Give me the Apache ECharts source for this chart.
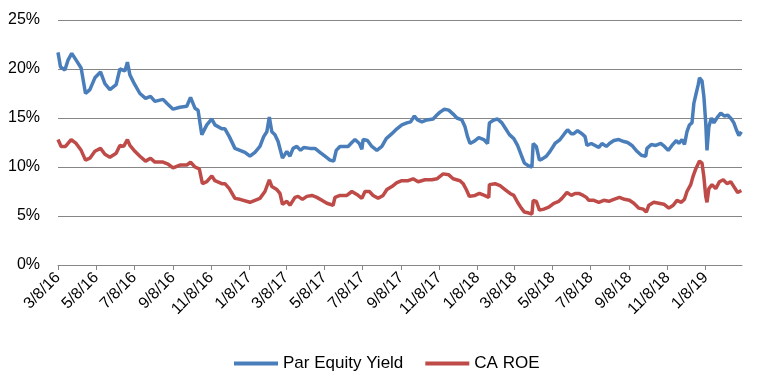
<!DOCTYPE html>
<html>
<head>
<meta charset="utf-8">
<script src="https://cdn.jsdelivr.net/npm/echarts@6/dist/echarts.min.js"></script>
<style>
html,body{margin:0;padding:0;background:#fff;}
#chart{width:760px;height:381px;}
</style>
</head>
<body>
<div id="chart"></div>
<script>
// Series names
const seriesNames = ['Par Equity Yield', 'CA ROE'];

// Par Equity Yield (%), dates as m/d/yy
const parDates = ['3/8/16','3/12/16','3/19/16','3/24/16','3/30/16','4/6/16','4/14/16','4/21/16','4/28/16','5/6/16','5/15/16','5/22/16','5/30/16','6/9/16','6/15/16','6/23/16','6/27/16','7/1/16','7/8/16','7/17/16','7/26/16','8/3/16','8/10/16','8/23/16','8/29/16','9/8/16','9/19/16','9/30/16','10/6/16','10/13/16','10/18/16','10/24/16','11/1/16','11/9/16','11/14/16','11/25/16','11/30/16','12/7/16','12/16/16','12/24/16','1/1/17','1/9/17','1/17/17','1/25/17','1/31/17','2/5/17','2/9/17','2/13/17','2/18/17','2/23/17','3/2/17','3/9/17','3/14/17','3/19/17','3/25/17','3/31/17','4/5/17','4/15/17','4/23/17','5/1/17','5/9/17','5/17/17','5/23/17','5/27/17','6/2/17','6/10/17','6/15/17','6/21/17','6/26/17','7/3/17','7/7/17','7/9/17','7/16/17','7/23/17','7/31/17','8/8/17','8/15/17','8/24/17','9/1/17','9/9/17','9/17/17','9/23/17','9/29/17','10/4/17','10/11/17','10/19/17','10/29/17','11/4/17','11/9/17','11/16/17','11/23/17','11/30/17','12/6/17','12/14/17','12/19/17','12/23/17','12/27/17','1/2/18','1/10/18','1/18/18','1/24/18','1/27/18','2/3/18','2/9/18','2/16/18','2/21/18','2/28/18','3/7/18','3/13/18','3/19/18','3/24/18','3/31/18','4/5/18','4/7/18','4/12/18','4/17/18','4/21/18','4/28/18','5/4/18','5/12/18','5/20/18','5/27/18','6/1/18','6/7/18','6/11/18','6/17/18','6/24/18','6/29/18','7/2/18','7/9/18','7/15/18','7/21/18','7/26/18','8/2/18','8/7/18','8/14/18','8/22/18','8/30/18','9/5/18','9/12/18','9/20/18','9/27/18','10/4/18','10/6/18','10/13/18','10/20/18','10/28/18','11/3/18','11/9/18','11/15/18','11/22/18','11/26/18','12/1/18','12/5/18','12/9/18','12/13/18','12/17/18','12/20/18','12/24/18','12/27/18','12/29/18','1/2/19','1/5/19','1/8/19','1/10/19','1/13/19','1/17/19','1/21/19','1/27/19','2/1/19','2/7/19','2/12/19','2/18/19','2/22/19','2/26/19','3/2/19','3/6/19'];
const parYield = [21.7,20.2,19.9,20.9,21.6,20.9,20.1,17.5,17.9,19.1,19.7,18.5,17.9,18.4,20.0,19.8,20.7,19.4,18.5,17.5,17.0,17.2,16.7,16.9,16.5,15.9,16.1,16.2,17.1,16.0,15.8,13.3,14.3,14.9,14.3,13.9,13.9,13.1,11.9,11.7,11.5,11.1,11.5,12.1,13.1,13.6,15.1,13.6,13.3,12.6,10.9,11.6,11.1,11.9,12.1,11.7,12.0,11.9,11.9,11.5,11.1,10.7,10.6,11.7,12.1,12.1,12.1,12.5,12.8,12.4,11.8,12.8,12.7,12.1,11.7,12.1,12.9,13.4,13.9,14.3,14.5,14.6,15.2,14.8,14.6,14.8,14.9,15.3,15.6,15.9,15.8,15.4,15.0,14.8,14.1,13.1,12.4,12.6,13.0,12.8,12.4,14.5,14.8,14.9,14.5,14.0,13.3,12.9,12.2,11.2,10.4,10.1,10.0,12.4,12.1,10.7,10.8,11.1,11.6,12.4,12.8,13.4,13.8,13.4,13.4,13.7,13.4,13.1,12.2,12.4,12.2,12.0,12.4,12.1,12.4,12.7,12.8,12.6,12.5,12.2,11.6,11.2,11.1,11.9,12.3,12.2,12.4,12.1,11.7,12.2,12.7,12.4,12.8,12.3,13.6,14.3,14.5,16.5,17.6,18.4,19.1,18.8,17.2,14.5,11.7,14.1,15.0,14.5,15.1,15.5,15.2,15.3,14.9,14.5,13.8,13.2,13.6];

// CA ROE (%)
const roeDates = ['3/8/16','3/13/16','3/20/16','3/29/16','4/6/16','4/14/16','4/21/16','4/28/16','5/6/16','5/15/16','5/22/16','5/30/16','6/9/16','6/15/16','6/21/16','6/27/16','7/1/16','7/9/16','7/17/16','7/26/16','8/3/16','8/10/16','8/23/16','8/31/16','9/8/16','9/19/16','9/30/16','10/6/16','10/13/16','10/20/16','10/25/16','11/1/16','11/9/16','11/14/16','11/25/16','11/30/16','12/7/16','12/16/16','12/24/16','1/9/17','1/17/17','1/25/17','2/2/17','2/9/17','2/13/17','2/21/17','2/26/17','3/2/17','3/9/17','3/14/17','3/22/17','3/27/17','4/3/17','4/10/17','4/18/17','4/26/17','5/4/17','5/12/17','5/22/17','5/25/17','6/2/17','6/13/17','6/21/17','6/29/17','7/7/17','7/12/17','7/19/17','7/25/17','8/2/17','8/10/17','8/16/17','8/24/17','9/1/17','9/9/17','9/19/17','9/27/17','10/5/17','10/16/17','10/27/17','11/4/17','11/14/17','11/23/17','11/30/17','12/11/17','12/16/17','12/21/17','12/26/17','1/4/18','1/11/18','1/19/18','1/26/18','1/27/18','2/5/18','2/13/18','2/21/18','3/1/18','3/7/18','3/13/18','3/19/18','3/24/18','3/31/18','4/5/18','4/7/18','4/12/18','4/17/18','4/24/18','5/2/18','5/10/18','5/18/18','5/23/18','5/31/18','6/7/18','6/13/18','6/19/18','6/26/18','7/1/18','7/5/18','7/13/18','7/21/18','7/29/18','8/6/18','8/14/18','8/23/18','8/31/18','9/8/18','9/15/18','9/23/18','9/30/18','10/5/18','10/9/18','10/17/18','10/25/18','11/2/18','11/10/18','11/17/18','11/23/18','11/30/18','12/5/18','12/9/18','12/15/18','12/19/18','12/23/18','12/26/18','12/29/18','1/2/19','1/5/19','1/8/19','1/10/19','1/13/19','1/18/19','1/24/19','1/30/19','2/5/19','2/11/19','2/17/19','2/22/19','2/28/19','3/6/19'];
const caRoe = [12.8,12.1,12.1,12.8,12.4,11.7,10.7,10.9,11.6,11.9,11.3,11.0,11.4,12.2,12.1,12.8,12.2,11.6,11.1,10.6,10.9,10.5,10.5,10.3,9.9,10.2,10.2,10.5,10.0,9.8,8.3,8.5,9.1,8.6,8.3,8.3,7.8,6.8,6.7,6.4,6.6,6.8,7.5,8.7,8.0,7.7,7.3,6.2,6.5,6.1,6.9,7.0,6.7,7.0,7.1,6.9,6.6,6.3,6.1,6.9,7.1,7.1,7.5,7.2,6.8,7.5,7.5,7.1,6.8,7.1,7.7,8.0,8.4,8.6,8.6,8.8,8.5,8.7,8.7,8.8,9.3,9.2,8.8,8.6,8.3,7.7,7.0,7.1,7.3,7.1,6.9,8.2,8.3,8.1,7.7,7.3,7.1,6.4,5.8,5.4,5.3,5.2,6.6,6.5,5.6,5.7,5.9,6.3,6.5,6.8,7.4,7.1,7.3,7.3,7.1,6.9,6.6,6.6,6.4,6.6,6.5,6.7,6.9,6.7,6.6,6.3,5.8,5.7,5.4,6.1,6.4,6.3,6.2,5.8,6.1,6.6,6.4,6.7,7.5,8.2,9.1,9.8,10.2,10.6,10.4,9.0,7.0,6.4,7.8,8.2,7.8,8.5,8.7,8.3,8.5,8.0,7.4,7.6];

// Y axis ticks (%)
const yTicks = [0, 5, 10, 15, 20, 25];

// Daily category axis 3/8/16 .. 3/7/19 (Excel-style date axis)
const categories = [];
(function(){
  const d = new Date(2016, 2, 8);
  const end = new Date(2019, 2, 7);
  while (d <= end) {
    categories.push((d.getMonth()+1) + '/' + d.getDate() + '/' + String(d.getFullYear()).slice(2));
    d.setDate(d.getDate() + 1);
  }
})();
const isMajor = (idx, val) => /^(1|3|5|7|9|11)\/8\//.test(val);

const chart = echarts.init(document.getElementById('chart'), null, {renderer: 'canvas'});
chart.setOption({
  animation: false,
  backgroundColor: '#fff',
  grid: {left: 58, right: 18, top: 20, bottom: 116},
  legend: {
    data: seriesNames,
    left: 229, top: 350,
    icon: 'rect', itemWidth: 44, itemHeight: 4, itemGap: 22,
    textStyle: {fontFamily: 'Liberation Sans, Arial, sans-serif', fontSize: 17, color: '#000'}
  },
  xAxis: {
    type: 'category',
    data: categories,
    boundaryGap: false,
    axisLine: {lineStyle: {color: '#868686', width: 1}},
    axisTick: {show: true, interval: isMajor, length: 5, lineStyle: {color: '#868686'}},
    axisLabel: {
      interval: isMajor, rotate: 45, margin: 10,
      fontFamily: 'Liberation Sans, Arial, sans-serif', fontSize: 16, color: '#000'
    },
    splitLine: {show: false}
  },
  yAxis: {
    type: 'value',
    min: yTicks[0], max: yTicks[yTicks.length-1], interval: yTicks[1]-yTicks[0],
    axisLine: {show: false},
    axisTick: {show: false},
    axisLabel: {formatter: '{value}%', margin: 18, fontFamily: 'Liberation Sans, Arial, sans-serif', fontSize: 16, color: '#000'},
    splitLine: {lineStyle: {color: '#868686', width: 1}}
  },
  series: [
    {
      name: seriesNames[0], type: 'line', showSymbol: false, symbol: 'none',
      data: parDates.map((d, i) => [d, parYield[i]]),
      lineStyle: {color: '#4A7EBB', width: 3.5}, itemStyle: {color: '#4A7EBB'}
    },
    {
      name: seriesNames[1], type: 'line', showSymbol: false, symbol: 'none',
      data: roeDates.map((d, i) => [d, caRoe[i]]),
      lineStyle: {color: '#BE4B48', width: 3.5}, itemStyle: {color: '#BE4B48'}
    }
  ]
});
</script>
</body>
</html>
